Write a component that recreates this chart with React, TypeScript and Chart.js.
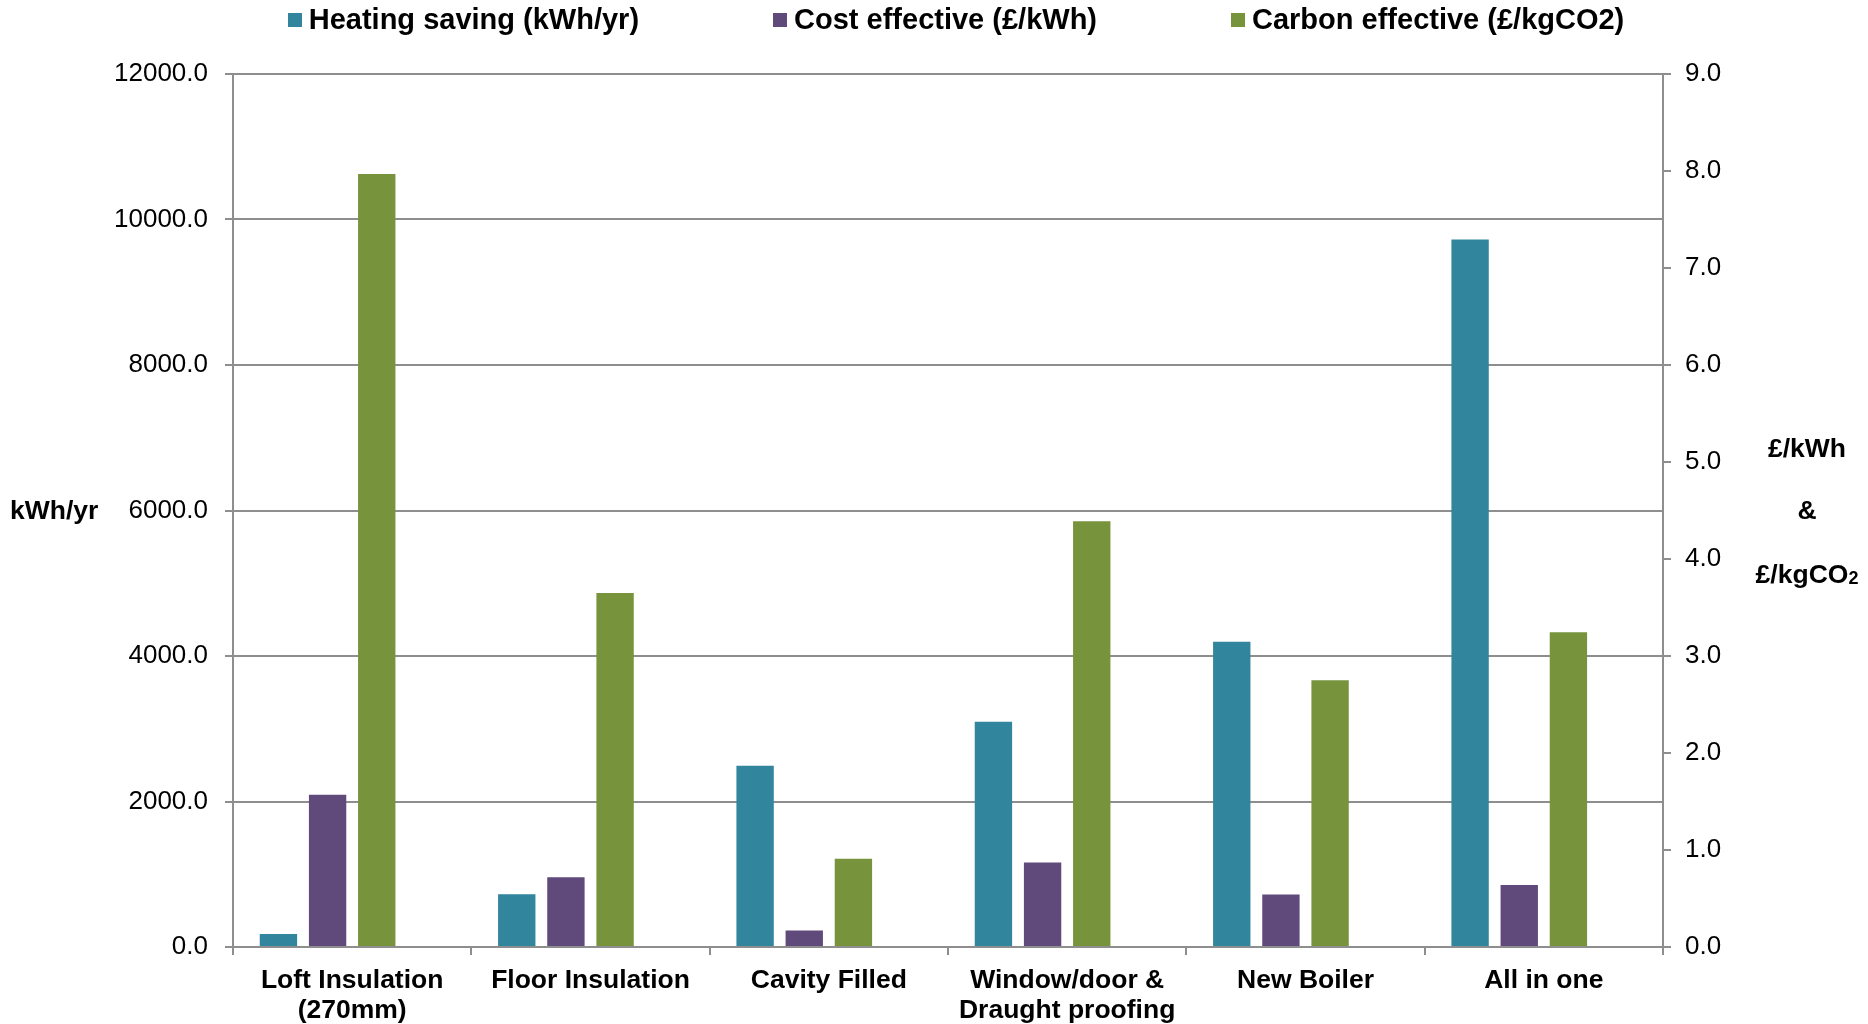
import React, { useEffect, useRef } from 'react';
import { Chart, registerables } from 'chart.js';

Chart.register(...registerables);

// ---------- data ----------
const categories: (string | string[])[] = [
  ['Loft Insulation', '(270mm)'],
  'Floor Insulation',
  'Cavity Filled',
  ['Window/door &', 'Draught proofing'],
  'New Boiler',
  'All in one',
];
const heatingSaving = [180, 725, 2490, 3095, 4195, 9725]; // kWh/yr (left axis)
const costEffective = [1.57, 0.72, 0.17, 0.87, 0.54, 0.64]; // £/kWh (right axis)
const carbonEffective = [7.97, 3.65, 0.91, 4.39, 2.75, 3.245]; // £/kgCO2 (right axis)
const emptySeries: (number | null)[] = [null, null, null, null, null, null];

const seriesLabels = ['Heating saving (kWh/yr)', 'Cost effective (£/kWh)', 'Carbon effective (£/kgCO2)'];
const seriesColors = ['#31859C', '#604A7B', '#77933C'];

const leftMax = 12000;
const leftStep = 2000;
const rightMax = 9;
const rightStep = 1;

const leftAxisTitle = 'kWh/yr';
const rightAxisTitle = ['£/kWh', '&', '£/kgCO'];
const rightAxisTitleSub = '2';

// ---------- style ----------
const FAMILY = '"Liberation Sans", Arial, Helvetica, sans-serif';
const GRID = '#8e8e8e';

const legendPlugin = {
  id: 'customLegend',
  afterDraw(chart: any) {
    const { ctx, chartArea } = chart;
    ctx.save();
    ctx.font = `bold 29px ${FAMILY}`;
    const boxSize = 14;
    const boxGap = 7;
    const itemGap = 134;
    const ds = chart.data.datasets.filter((d: any) => d.label);
    const items = ds.map((d: any) => ({
      label: d.label,
      color: d.backgroundColor,
      w: boxSize + boxGap + ctx.measureText(d.label).width,
    }));
    const total = items.reduce((s: number, it: any) => s + it.w, 0) + itemGap * (items.length - 1);
    let x = (chartArea.left + chartArea.right) / 2 + 8 - total / 2;
    const cy = 20.5;
    items.forEach((it: any) => {
      ctx.fillStyle = it.color;
      ctx.fillRect(Math.round(x), 13, boxSize, boxSize);
      ctx.fillStyle = '#000';
      ctx.textBaseline = 'middle';
      ctx.textAlign = 'left';
      ctx.fillText(it.label, x + boxSize + boxGap, cy);
      x += it.w + itemGap;
    });
    ctx.restore();
  },
};

const axisTitlePlugin = {
  id: 'axisTitles',
  afterDraw(chart: any) {
    const { ctx, chartArea, width } = chart;
    const midY = (chartArea.top + chartArea.bottom) / 2;
    ctx.save();
    ctx.fillStyle = '#000';
    ctx.font = `bold 26.5px ${FAMILY}`;
    ctx.textBaseline = 'middle';
    ctx.textAlign = 'left';
    ctx.fillText(leftAxisTitle, 10, midY + 1);

    const cx = width - 61;
    const lineGap = 62;
    rightAxisTitle.forEach((line, i) => {
      const y = midY + (i - 1) * lineGap + 1;
      ctx.font = `bold 26.5px ${FAMILY}`;
      const w1 = ctx.measureText(line).width;
      if (i === rightAxisTitle.length - 1) {
        ctx.font = `bold 18px ${FAMILY}`;
        const w2 = ctx.measureText(rightAxisTitleSub).width;
        const x0 = cx - (w1 + w2) / 2;
        ctx.textBaseline = 'alphabetic';
        ctx.font = `bold 26.5px ${FAMILY}`;
        ctx.fillText(line, x0, y + 9.5);
        ctx.font = `bold 18px ${FAMILY}`;
        ctx.fillText(rightAxisTitleSub, x0 + w1, y + 10.5);
      } else {
        ctx.textBaseline = 'middle';
        ctx.fillText(line, cx - w1 / 2, y);
      }
    });
    ctx.restore();
  },
};

export default function App() {
  const canvasRef = useRef<HTMLCanvasElement | null>(null);

  useEffect(() => {
    if (!canvasRef.current) return;
    const chart = new Chart(canvasRef.current, {
      type: 'bar',
      data: {
        labels: categories,
        datasets: [
          { label: seriesLabels[0], data: heatingSaving, backgroundColor: seriesColors[0], yAxisID: 'y' },
          { label: seriesLabels[1], data: costEffective, backgroundColor: seriesColors[1], yAxisID: 'y1' },
          { label: seriesLabels[2], data: carbonEffective, backgroundColor: seriesColors[2], yAxisID: 'y1' },
          { label: '', data: emptySeries, backgroundColor: 'rgba(0,0,0,0)', yAxisID: 'y1' },
        ],
      },
      options: {
        responsive: false,
        maintainAspectRatio: false,
        animation: false,
        layout: { padding: { top: 74, left: 0, right: 0, bottom: 0 } },
        datasets: { bar: { categoryPercentage: 0.825, barPercentage: 0.76 } },
        plugins: {
          legend: { display: false },
          tooltip: { enabled: false },
          title: { display: false },
        },
        scales: {
          x: {
            grid: {
              display: true,
              drawOnChartArea: false,
              drawTicks: true,
              tickLength: 8,
              color: GRID,
              lineWidth: 2,
              offset: true,
            },
            border: { display: true, color: GRID, width: 2 },
            ticks: {
              color: '#000',
              font: { family: FAMILY, size: 26.5, weight: 'bold', lineHeight: 1.13 },
              padding: 11,
              maxRotation: 0,
              autoSkip: false,
            },
            afterFit: (s: any) => {
              s.height = 77;
            },
          },
          y: {
            position: 'left',
            min: 0,
            max: leftMax,
            grid: { color: GRID, lineWidth: 2, drawTicks: true, tickLength: 8 },
            border: { display: true, color: GRID, width: 2 },
            ticks: {
              stepSize: leftStep,
              color: '#000',
              font: { family: FAMILY, size: 26 },
              padding: 17,
              callback: (v: any) => Number(v).toFixed(1),
            },
            afterFit: (s: any) => {
              s.width = 233;
            },
          },
          y1: {
            position: 'right',
            min: 0,
            max: rightMax,
            grid: { drawOnChartArea: false, color: GRID, lineWidth: 2, drawTicks: true, tickLength: 8 },
            border: { display: true, color: GRID, width: 2 },
            ticks: {
              stepSize: rightStep,
              color: '#000',
              font: { family: FAMILY, size: 26 },
              padding: 14,
              callback: (v: any) => Number(v).toFixed(1),
            },
            afterFit: (s: any) => {
              s.width = 205;
            },
          },
        },
      },
      plugins: [legendPlugin, axisTitlePlugin],
    } as any);
    return () => chart.destroy();
  }, []);

  return (
    <div style={{ position: 'absolute', left: 0, top: 0, width: 1868, height: 1024, background: '#fff' }}>
      <canvas ref={canvasRef} width={1868} height={1024} style={{ display: 'block' }} />
    </div>
  );
}
